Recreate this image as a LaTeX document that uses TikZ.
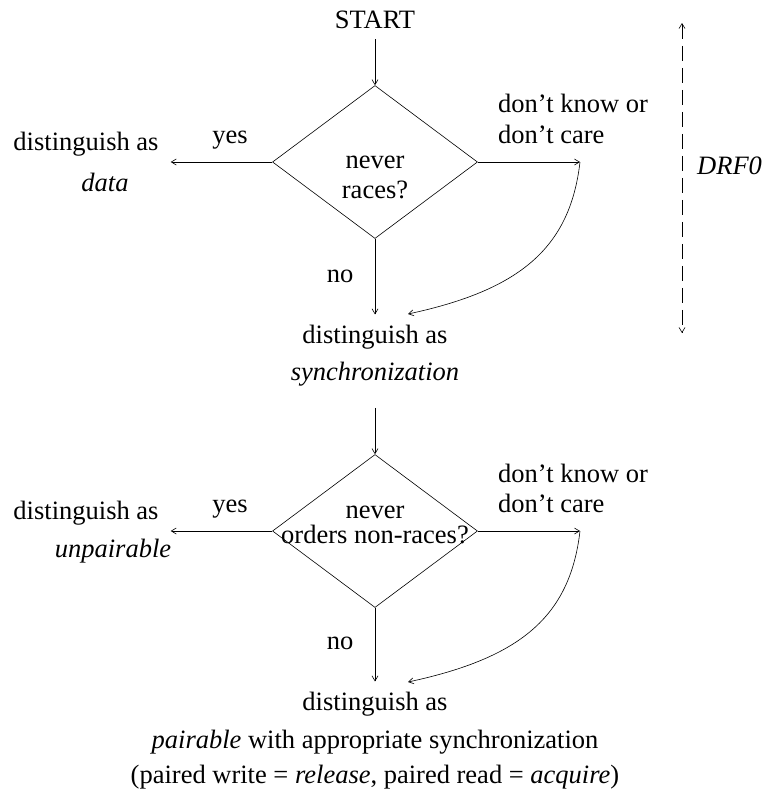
\documentclass[tikz,border=0pt]{standalone}
\usepackage{fontspec}
\setmainfont{Liberation Serif}
\usetikzlibrary{shapes.geometric,arrows.meta}

\tikzset{
  flow/.style={-{Straight Barb[length=5pt,width=6pt]}, line width=0.6pt},
  decision/.style={diamond, draw, line width=0.6pt, inner sep=0pt,
    minimum width=205pt, minimum height=153pt},
  lbl/.style={inner sep=0pt, align=center, font=\fontsize{26.5}{30}\selectfont},
}

\begin{document}
\begin{tikzpicture}[x=1pt,y=-1pt]
        \useasboundingbox (0,0) rectangle (765,796);
        % first question
        \node[lbl,anchor=base] (start) at (375,28) {START};
        \node[decision] (qrace) at (375,162) {};
        \node[lbl,anchor=base] (trace) at (375,198) {never\\races?};
        \node[lbl,anchor=base] (yes1) at (230,143) {yes};
        \node[lbl,anchor=base] (no1) at (340,282) {no};
        \node[lbl,anchor=base,font=\fontsize{26.5}{41}\selectfont] (data) at (86,191) {distinguish as\\\makebox[0pt]{\hspace*{38pt}\textit{data}}};
        \node[lbl,anchor=base west,align=left,font=\fontsize{26.5}{31}\selectfont] (dk1) at (498,143) {don’t know or\\don’t care};
        \node[lbl,anchor=base,font=\fontsize{26.5}{37}\selectfont] (sync) at (375,380) {distinguish as\\\textit{synchronization}};
        \coordinate (kr1) at (580,162);
        \coordinate (tr1) at (408,314);
        \draw[flow,shorten <=11pt] (start.south) -- (qrace.north);
        \draw[flow,shorten >=12pt] (qrace.west) -- (qrace.west -| data.east);
        \draw[flow] (qrace.east) -- (kr1);
        \draw[flow] (kr1) .. controls +(-10,86) and +(112,-24) .. (tr1);
        \draw[flow,shorten >=10pt] (qrace.south) -- (sync.north);
        % DRF0 range
        \coordinate (drtop) at (682,23);
        \coordinate (drbot) at (682,333);
        \draw[{Straight Barb[length=5pt,width=6pt]}-{Straight Barb[length=5pt,width=6pt]},line width=0.6pt,dash pattern=on 15pt off 7pt] (drtop) -- (drbot);
        \node[lbl,anchor=west] (drf) at (697,166) {\textit{DRF0}};
        % second question
        \node[decision] (qorder) at (375,531) {};
        \node[lbl,anchor=base,font=\fontsize{26.5}{25}\selectfont] (torder) at (375,543) {never\\orders non-races?};
        \node[lbl,anchor=base] (yes2) at (230,512) {yes};
        \node[lbl,anchor=base] (no2) at (340,649) {no};
        \node[lbl,anchor=base,font=\fontsize{26.5}{38}\selectfont] (unpair) at (86,557) {distinguish as\\\makebox[0pt]{\hspace*{54pt}\textit{unpairable}}};
        \node[lbl,anchor=base west,align=left,font=\fontsize{26.5}{30}\selectfont] (dk2) at (498,512) {don’t know or\\don’t care};
        \node[lbl,anchor=base,font=\fontsize{26.5}{38}\selectfont] (pair) at (375,783) {distinguish as\\\textit{pairable} with appropriate synchronization\\[-3pt](paired write = \textit{release}, paired read = \textit{acquire})};
        \coordinate (kr2) at (580,531);
        \coordinate (tr2) at (408,682);
        \draw[flow,shorten <=22pt] (sync.south) -- (qorder.north);
        \draw[flow,shorten >=12pt] (qorder.west) -- (qorder.west -| unpair.east);
        \draw[flow] (qorder.east) -- (kr2);
        \draw[flow] (kr2) .. controls +(-10,86) and +(112,-24) .. (tr2);
        \draw[flow,shorten >=10pt] (qorder.south) -- (pair.north);
\end{tikzpicture}
\end{document}
